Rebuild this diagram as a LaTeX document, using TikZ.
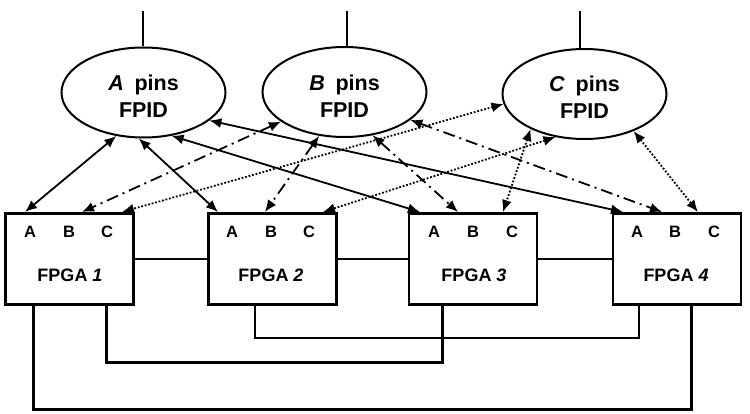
\documentclass[tikz,border=0pt]{standalone}
\usepackage{fontspec}
\setmainfont{Liberation Sans}
\usetikzlibrary{shapes.geometric,arrows.meta}
\begin{document}
\begin{tikzpicture}[x=1pt,y=-1pt,
  pinsel/.style={ellipse,draw,line width=2pt,minimum width=164pt,minimum height=90pt,inner sep=0pt},
  fpga/.style={draw,line width=2.5pt,minimum width=128pt,minimum height=91pt,inner sep=0pt},
  lbl/.style={font=\bfseries\fontsize{21.5}{27}\selectfont,anchor=base,inner sep=0pt},
  pin/.style={font=\bfseries\fontsize{16.5}{18}\selectfont,anchor=base,inner sep=0pt},
  flab/.style={font=\bfseries\fontsize{18}{22}\selectfont,anchor=base,inner sep=0pt},
  link/.style={line width=1.8pt,{Latex[length=12pt,width=10pt]}-{Latex[length=12pt,width=10pt]}},
  sA/.style={link},
  sB/.style={link,dash pattern=on 12pt off 5pt on 2pt off 5pt},
  sC/.style={link,dash pattern=on 1.8pt off 1.8pt},
  wire/.style={line width=2.6pt},
  thinwire/.style={line width=2pt},
]
\useasboundingbox (0,0) rectangle (750,414);

% ellipses
\node[pinsel] (A) at (143.5,92.5) {};
\node[pinsel] (B) at (344.5,92) {};
\node[pinsel] (C) at (584.5,94) {};
\node[lbl] (At1) at (143.5,91) {\textit{A}\enspace pins};
\node[lbl] (At2) at (143.5,118) {FPID};
\node[lbl] (Bt1) at (344.5,91) {\textit{B}\enspace pins};
\node[lbl] (Bt2) at (344.5,118) {FPID};
\node[lbl] (Ct1) at (584.5,92) {\textit{C}\enspace pins};
\node[lbl] (Ct2) at (584.5,119) {FPID};

% top lines
\coordinate (tA) at (143,11);
\coordinate (tB) at (347,11);
\coordinate (tC) at (580,11);
\draw[thinwire] (tA) -- (tA |- A.north);
\draw[thinwire] (tB) -- (tB |- B.north);
\draw[thinwire] (tC) -- (tC |- C.north);

% FPGA boxes
\node[fpga] (F1) at (69.5,259) {};
\node[fpga] (F2) at (272.5,259) {};
\node[fpga] (F3) at (473,259) {};
\node[fpga] (F4) at (677,259) {};

\node[pin] (F1a) at (30,238) {A};
\node[pin] (F1b) at (69,238) {B};
\node[pin] (F1c) at (107,238) {C};
\node[pin] (F2a) at (232,238) {A};
\node[pin] (F2b) at (271,238) {B};
\node[pin] (F2c) at (309,238) {C};
\node[pin] (F3a) at (434,238) {A};
\node[pin] (F3b) at (473,238) {B};
\node[pin] (F3c) at (512,238) {C};
\node[pin] (F4a) at (637,238) {A};
\node[pin] (F4b) at (675,238) {B};
\node[pin] (F4c) at (714,238) {C};

\node[flab] (L1) at (70,282) {FPGA \textit{1}};
\node[flab] (L2) at (271,282) {FPGA \textit{2}};
\node[flab] (L3) at (474,282) {FPGA \textit{3}};
\node[flab] (L4) at (676,282) {FPGA \textit{4}};

% pin connection points
\coordinate (p1a) at (25,212);
\coordinate (p1b) at (82,212);
\coordinate (p1c) at (122,212);
\coordinate (p2a) at (218,212);
\coordinate (p2b) at (265,212);
\coordinate (p2c) at (323,212);
\coordinate (p3a) at (420,212);
\coordinate (p3b) at (458,212);
\coordinate (p3c) at (503,212);
\coordinate (p4a) at (623,212);
\coordinate (p4b) at (662,212);
\coordinate (p4c) at (698,212);

% A links (solid)
\draw[sA] (A.-122.5) -- (p1a);
\draw[sA] (A.-96) -- (p2a);
\draw[sA] (A.-57.5) -- (p3a);
\draw[sA] (A.-23.7) -- (p4a);
% B links (dash-dot)
\draw[sB] (B.-155.5) -- (p1b);
\draw[sB] (B.-120.7) -- (p2b);
\draw[sB] (B.-57.7) -- (p3b);
\draw[sB] (B.-23.7) -- (p4b);
% C links (dotted)
\draw[sC] (C.-173.4) -- (p1c);
\draw[sC] (C.-124.1) -- (p2c);
\draw[sC] (C.-147.4) -- (p3c);
\draw[sC] (C.-37) -- (p4c);

% horizontal links
\draw[thinwire] (F1.east) -- (F2.west);
\draw[thinwire] (F2.east) -- (F3.west);
\draw[thinwire] (F3.east) -- (F4.west);

% bottom wires
\draw[thinwire] ([xshift=48pt]F2.south west) -- ++(0,32) -| ([xshift=27pt]F4.south west);
\draw[wire] ([xshift=102pt]F1.south west) -- ++(0,57) -| ([xshift=35pt]F3.south west);
\draw[wire] ([xshift=29pt]F1.south west) -- ++(0,104) -| ([xshift=80pt]F4.south west);
\end{tikzpicture}
\end{document}
